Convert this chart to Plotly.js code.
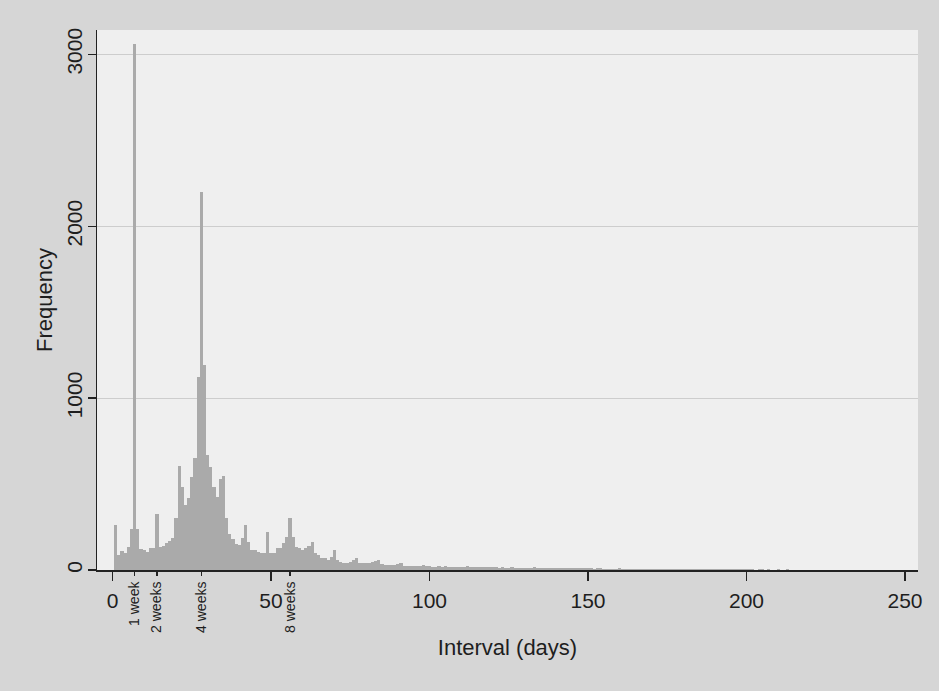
<!DOCTYPE html>
<html>
<head>
<meta charset="utf-8">
<script src="https://cdn.plot.ly/plotly-3.0.1.min.js"></script>
<style>
  html, body { margin: 0; padding: 0; background: #d6d6d6; }
  #chart { width: 939px; height: 691px; }
</style>
</head>
<body>
<div id="chart"></div>
<script>
// Interval in days (one bar per day) and observed frequencies
const days = [];
for (let d = 1; d <= 254; d++) days.push(d);

const freq = [
  262, 88, 110, 99, 136, 236, 3060, 236, 120, 116,        // 1-10
  107, 126, 130, 326, 136, 140, 155, 168, 184, 300,       // 11-20
  608, 484, 380, 417, 543, 650, 1124, 2200, 1192, 669,    // 21-30
  601, 484, 426, 530, 545, 300, 210, 180, 150, 145,       // 31-40
  184, 262, 165, 116, 116, 107, 97, 100, 223, 100,        // 41-50
  100, 126, 126, 160, 190, 305, 194, 136, 126, 116,       // 51-60
  126, 140, 165, 97, 90, 68, 68, 58, 78, 115,             // 61-70
  58, 45, 39, 39, 48, 58, 68, 39, 39, 39,                 // 71-80
  42, 45, 50, 58, 33, 29, 29, 29, 31, 34,                 // 81-90
  43, 26, 25, 24, 24, 23, 25, 30, 22, 21,                 // 91-100
  20, 19, 21, 18, 24, 19, 18, 17, 18, 17,                 // 101-110
  16, 22, 17, 16, 15, 17, 16, 15, 20, 16,                 // 111-120
  15, 14, 15, 14, 13, 18, 14, 13, 13, 12,                 // 121-130
  13, 12, 16, 12, 11, 12, 11, 11, 13, 11,                 // 131-140
  10, 11, 12, 10, 10, 9, 13, 10, 9, 9,                    // 141-150
  9, 8, 9, 10, 8, 8, 8, 7, 8, 9,                          // 151-160
  7, 7, 8, 7, 6, 7, 6, 7, 6, 6,                           // 161-170
  6, 7, 5, 6, 5, 6, 5, 5, 6, 5,                           // 171-180
  5, 4, 5, 5, 4, 4, 5, 4, 4, 4,                           // 181-190
  4, 3, 4, 4, 3, 3, 4, 3, 3, 3,                           // 191-200
  3, 3, 2, 3, 3, 2, 3, 2, 2, 3,                           // 201-210
  2, 2, 3, 2, 2, 2, 2, 2, 1, 2,                           // 211-220
  2, 1, 2, 2, 1, 2, 1, 1, 2, 1,                           // 221-230
  1, 2, 1, 1, 1, 1, 2, 1, 1, 1,                           // 231-240
  1, 1, 1, 1, 1, 1, 1, 1, 1, 1,                           // 241-250
  1, 0, 1, 1                                              // 251-254
];

const xTickVals = [0, 50, 100, 150, 200, 250];
const weekTickVals = [7, 14, 28, 56];
const weekTickText = ["1 week", "2 weeks", "4 weeks", "8 weeks"];
const yTickVals = [0, 1000, 2000, 3000];

const xRange = [-4.9, 254.1];
const yRange = [0, 3142];
const ink = "#1e1e1e";
const fontFam = "Liberation Sans, Arial, Helvetica, sans-serif";

const traces = [
  {
    type: "bar",
    x: days,
    y: freq,
    width: 1,
    marker: { color: "#aaaaaa", line: { width: 0 } },
    hoverinfo: "x+y"
  },
  {
    type: "scatter",
    mode: "markers",
    x: weekTickVals,
    y: weekTickVals.map(() => 0),
    xaxis: "x2",
    yaxis: "y",
    marker: { opacity: 0, size: 1 },
    hoverinfo: "skip",
    showlegend: false
  }
];

const layout = {
  width: 939,
  height: 691,
  margin: { l: 97, r: 21, t: 30, b: 121 },
  paper_bgcolor: "#d6d6d6",
  plot_bgcolor: "#efefef",
  bargap: 0,
  showlegend: false,
  font: { family: fontFam, color: ink },
  xaxis: {
    range: xRange,
    tickmode: "array",
    tickvals: xTickVals,
    ticks: "outside",
    ticklen: 9,
    tickwidth: 1.5,
    tickcolor: "#222",
    showline: true,
    linecolor: "#222",
    linewidth: 1.5,
    showgrid: false,
    zeroline: false,
    tickfont: { size: 21, color: ink, family: fontFam },
    ticklabelstandoff: 2,
    title: { text: "Interval (days)", font: { size: 22, color: ink, family: fontFam }, standoff: 29 }
  },
  xaxis2: {
    overlaying: "x",
    anchor: "y",
    side: "bottom",
    range: xRange,
    tickmode: "array",
    tickvals: weekTickVals,
    ticktext: weekTickText,
    ticks: "outside",
    ticklen: 5,
    tickwidth: 1.5,
    tickcolor: "#222",
    tickangle: -90,
    showline: false,
    showgrid: false,
    zeroline: false,
    tickfont: { size: 14, color: ink, family: fontFam }
  },
  yaxis: {
    range: yRange,
    tickmode: "array",
    tickvals: yTickVals,
    tickangle: -90,
    ticks: "outside",
    ticklen: 8,
    tickwidth: 1.5,
    tickcolor: "#222",
    showline: true,
    linecolor: "#222",
    linewidth: 1.5,
    showgrid: true,
    gridcolor: "#cdcdcd",
    gridwidth: 1,
    zeroline: false,
    tickfont: { size: 21, color: ink, family: fontFam },
    ticklabelstandoff: -3,
    title: { text: "Frequency", font: { size: 22, color: ink, family: fontFam }, standoff: 4 }
  }
};

Plotly.newPlot("chart", traces, layout, { displayModeBar: false, staticPlot: true });
</script>
</body>
</html>
